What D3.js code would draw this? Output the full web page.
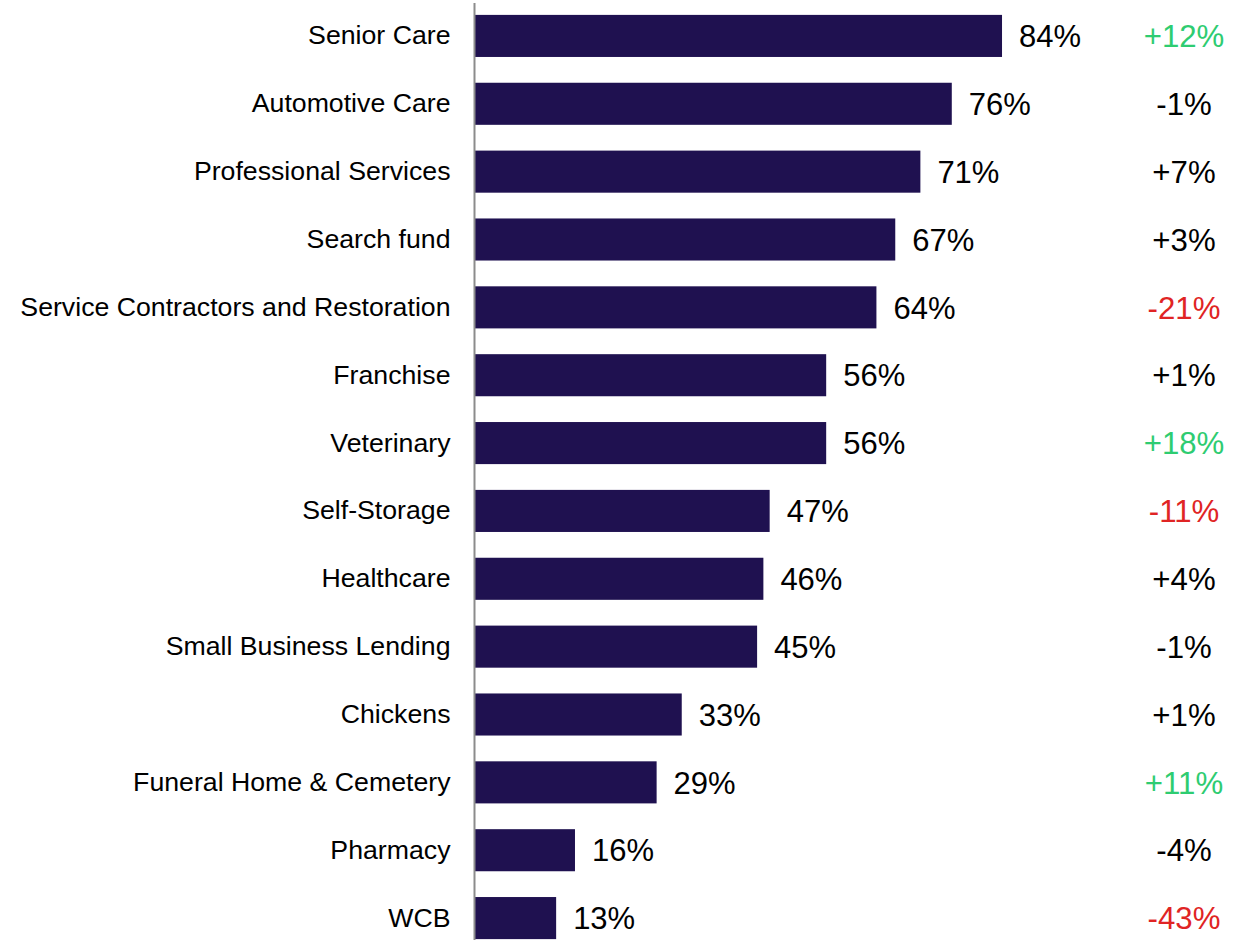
<!DOCTYPE html>
<html>
<head>
<meta charset="utf-8">
<script src="https://cdn.jsdelivr.net/npm/d3@7"></script>
<style>
  html, body { margin: 0; padding: 0; background: #ffffff; }
  svg { display: block; }
  text { font-family: "Liberation Sans", Arial, sans-serif; }
</style>
</head>
<body>
<script>
// Share by segment, with change versus prior period
const categories = [
  "Senior Care", "Automotive Care", "Professional Services", "Search fund",
  "Service Contractors and Restoration", "Franchise", "Veterinary", "Self-Storage",
  "Healthcare", "Small Business Lending", "Chickens", "Funeral Home & Cemetery",
  "Pharmacy", "WCB"
];
const values = [84, 76, 71, 67, 64, 56, 56, 47, 46, 45, 33, 29, 16, 13];
const changes = [12, -1, 7, 3, -21, 1, 18, -11, 4, -1, 1, 11, -4, -43];
// Changes of 10 points or more either way are highlighted
const highlightThreshold = 10;

const width = 1250, height = 940;

const svg = d3.select("body").append("svg")
  .attr("width", width)
  .attr("height", height);

const x = d3.scaleLinear().domain([0, 100]).range([474.5, 1102.5]);
const y = d3.scaleBand().domain(categories).range([2, 952]).paddingInner(0.38).paddingOuter(0.19);

const barColor = "#1f1150";
const green = "#2ecc71";
const red = "#e02424";

// Bars
svg.append("g").selectAll("rect")
  .data(categories)
  .join("rect")
  .attr("x", x(0))
  .attr("y", d => y(d))
  .attr("width", (d, i) => x(values[i]) - x(0))
  .attr("height", y.bandwidth())
  .attr("fill", barColor);

// Category axis: vertical rule plus right-aligned labels
const axis = d3.axisLeft(y).tickSize(0).tickPadding(24);
const axisG = svg.append("g")
  .attr("transform", `translate(${x(0)},0)`)
  .call(axis);
axisG.select(".domain").attr("stroke", "#8c8c8c").attr("stroke-width", 2)
  .attr("d", `M0,3V${height}`);
axisG.selectAll(".tick text")
  .attr("font-family", "'Liberation Sans', Arial, sans-serif")
  .attr("font-size", 26.7)
  .attr("fill", "#000");

// Value labels at bar ends
svg.append("g").selectAll("text")
  .data(categories)
  .join("text")
  .attr("x", (d, i) => x(values[i]) + 17)
  .attr("y", d => y(d) + y.bandwidth() / 2)
  .attr("dy", "0.36em")
  .attr("font-size", 31)
  .attr("fill", "#000")
  .text((d, i) => values[i] + "%");

// Change column
svg.append("g").selectAll("text")
  .data(categories)
  .join("text")
  .attr("x", 1184)
  .attr("y", d => y(d) + y.bandwidth() / 2)
  .attr("dy", "0.36em")
  .attr("text-anchor", "middle")
  .attr("font-size", 31.2)
  .attr("fill", (d, i) => changes[i] >= highlightThreshold ? green
    : changes[i] <= -highlightThreshold ? red : "#000")
  .text((d, i) => (changes[i] > 0 ? "+" : "") + changes[i] + "%");
</script>
</body>
</html>
